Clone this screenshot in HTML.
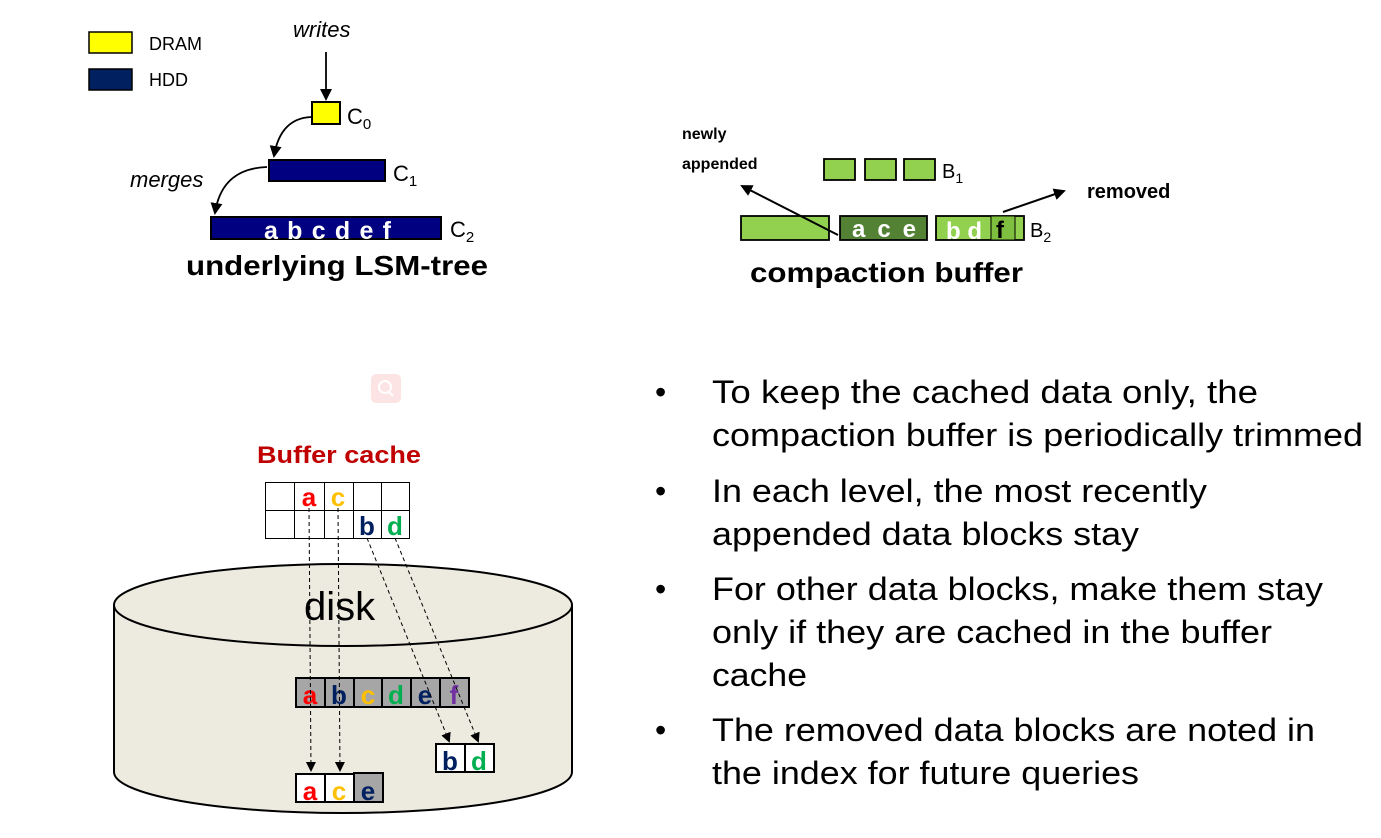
<!DOCTYPE html>
<html><head><meta charset="utf-8"><style>
html,body{margin:0;padding:0;background:#fff;}
svg{display:block;font-family:"Liberation Sans",sans-serif;}
</style></head><body>
<svg width="1381" height="838" viewBox="0 0 1381 838" xmlns="http://www.w3.org/2000/svg">
<defs>
<marker id="ah" markerWidth="10" markerHeight="10" refX="8" refY="5" orient="auto" markerUnits="userSpaceOnUse"><path d="M0,0 L10,5 L0,10 z" fill="#000"/></marker>
<marker id="ah2" markerWidth="12" markerHeight="12" refX="10" refY="6" orient="auto" markerUnits="userSpaceOnUse"><path d="M0,0 L12,6 L0,12 z" fill="#000"/></marker>
</defs>

<!-- legend -->
<rect x="89" y="32" width="43" height="21" fill="#ffff00" stroke="#000" stroke-width="1.5"/>
<rect x="89" y="69" width="43" height="21" fill="#002060" stroke="#000" stroke-width="1.5"/>
<text x="149" y="50" font-size="18">DRAM</text>
<text x="149" y="86" font-size="18">HDD</text>

<!-- LSM -->
<text x="293" y="37" font-size="22" font-style="italic">writes</text>
<line x1="326" y1="52" x2="326" y2="99" stroke="#000" stroke-width="1.8" marker-end="url(#ah2)"/>
<rect x="312" y="102" width="28" height="22" fill="#ffff00" stroke="#000" stroke-width="2"/>
<text x="347" y="124" font-size="22">C<tspan font-size="15" dy="5">0</tspan></text>
<path d="M311,117 C290,118 278,132 274,156" fill="none" stroke="#000" stroke-width="1.8" marker-end="url(#ah2)"/>
<rect x="269" y="160" width="116" height="21" fill="#000080" stroke="#000" stroke-width="2"/>
<text x="393" y="181" font-size="22">C<tspan font-size="15" dy="5">1</tspan></text>
<text x="130" y="187" font-size="22" font-style="italic">merges</text>
<path d="M267,167 C240,168 220,180 215,213" fill="none" stroke="#000" stroke-width="1.8" marker-end="url(#ah2)"/>
<rect x="211" y="217" width="230" height="22" fill="#000080" stroke="#000" stroke-width="2"/>
<text x="264" y="239" font-size="25" font-weight="bold" fill="#fff" textLength="127" lengthAdjust="spacing">a b c d e f</text>
<text x="450" y="237" font-size="22">C<tspan font-size="15" dy="5">2</tspan></text>
<text x="186" y="275" font-size="28" font-weight="bold" textLength="302" lengthAdjust="spacingAndGlyphs">underlying LSM-tree</text>

<!-- compaction buffer -->
<text x="682" y="139" font-size="16" font-weight="bold">newly</text>
<text x="682" y="169" font-size="16" font-weight="bold">appended</text>
<rect x="824" y="159" width="31" height="21" fill="#92d050" stroke="#000" stroke-width="1.8"/>
<rect x="865" y="159" width="31" height="21" fill="#92d050" stroke="#000" stroke-width="1.8"/>
<rect x="904" y="159" width="31" height="21" fill="#92d050" stroke="#000" stroke-width="1.8"/>
<text x="942" y="178" font-size="20">B<tspan font-size="14" dy="5">1</tspan></text>
<text x="1087" y="198" font-size="20" font-weight="bold">removed</text>
<rect x="741" y="216" width="88" height="24" fill="#92d050" stroke="#000" stroke-width="1.8"/>
<rect x="840" y="216" width="87" height="24" fill="#548235" stroke="#000" stroke-width="1.8"/>
<text x="852" y="237" font-size="24" font-weight="bold" fill="#fff" textLength="64" lengthAdjust="spacing">a c e</text>
<rect x="936" y="216" width="88" height="24" fill="#92d050" stroke="#000" stroke-width="1.8"/>
<rect x="991" y="216" width="24" height="24" fill="#7fbf40" stroke="#000" stroke-width="1"/>
<text x="946" y="239" font-size="24" font-weight="bold" fill="#fff">b d</text>
<text x="996" y="238" font-size="24" font-weight="bold" fill="#000">f</text>
<text x="1030" y="237" font-size="20">B<tspan font-size="14" dy="5">2</tspan></text>
<line x1="838" y1="235" x2="742" y2="186" stroke="#000" stroke-width="2" marker-end="url(#ah2)"/>
<line x1="1003" y1="212" x2="1064" y2="191" stroke="#000" stroke-width="2" marker-end="url(#ah2)"/>
<text x="750" y="282" font-size="28" font-weight="bold" textLength="273" lengthAdjust="spacingAndGlyphs">compaction buffer</text>

<!-- magnifier -->
<rect x="371" y="374" width="30" height="29" rx="5" fill="#fde4e4"/>
<circle cx="385" cy="387" r="6" fill="none" stroke="#fff" stroke-width="2"/>
<line x1="389" y1="392" x2="393" y2="396" stroke="#fff" stroke-width="2"/>

<!-- buffer cache -->
<text x="257" y="463" font-size="24" font-weight="bold" fill="#c00000" textLength="164" lengthAdjust="spacingAndGlyphs">Buffer cache</text>
<g stroke="#000" stroke-width="1" fill="#fff">
<rect x="265.5" y="482.5" width="144" height="56"/>
<line x1="265" y1="510.5" x2="409" y2="510.5"/>
<line x1="294.5" y1="482" x2="294.5" y2="538"/>
<line x1="324.5" y1="482" x2="324.5" y2="538"/>
<line x1="353.5" y1="482" x2="353.5" y2="538"/>
<line x1="381.5" y1="482" x2="381.5" y2="538"/>
</g>
<g font-size="26" font-weight="bold" text-anchor="middle">
<text x="309" y="506" fill="#ff0000">a</text>
<text x="338" y="506" fill="#ffc000">c</text>
<text x="367" y="535" fill="#002060">b</text>
<text x="395" y="535" fill="#00b050">d</text>
</g>

<!-- disk cylinder -->
<path d="M114,605 L114,772 A229,41 0 0 0 572,772 L572,605" fill="#edebe0" stroke="#000" stroke-width="2"/>
<ellipse cx="343" cy="605" rx="229" ry="41" fill="#edebe0" stroke="#000" stroke-width="2"/>
<text x="304" y="620" font-size="40">disk</text>

<!-- abcdef row -->
<g stroke="#000" stroke-width="2" fill="#a6a6a6">
<rect x="296" y="678" width="173" height="29"/>
<line x1="325" y1="678" x2="325" y2="707"/>
<line x1="354" y1="678" x2="354" y2="707"/>
<line x1="382" y1="678" x2="382" y2="707"/>
<line x1="411" y1="678" x2="411" y2="707"/>
<line x1="440" y1="678" x2="440" y2="707"/>
</g>
<g font-size="26" font-weight="bold" text-anchor="middle">
<text x="310" y="704" fill="#ff0000">a</text>
<text x="339" y="704" fill="#002060">b</text>
<text x="368" y="704" fill="#ffc000">c</text>
<text x="396" y="704" fill="#00b050">d</text>
<text x="425" y="704" fill="#002060">e</text>
<text x="454" y="704" fill="#7030a0">f</text>
</g>

<!-- bd box -->
<g stroke="#000" stroke-width="2">
<rect x="436" y="744" width="58" height="28" fill="#fff"/>
<line x1="465" y1="744" x2="465" y2="772"/>
</g>
<g font-size="26" font-weight="bold" text-anchor="middle">
<text x="450" y="770" fill="#002060">b</text>
<text x="479" y="770" fill="#00b050">d</text>
</g>

<!-- ace box -->
<g stroke="#000" stroke-width="2">
<rect x="296" y="774" width="29" height="28" fill="#fff"/>
<rect x="325" y="774" width="29" height="28" fill="#fff"/>
<rect x="354" y="773" width="29" height="29" fill="#a6a6a6"/>
</g>
<g font-size="26" font-weight="bold" text-anchor="middle">
<text x="310" y="800" fill="#ff0000">a</text>
<text x="339" y="800" fill="#ffc000">c</text>
<text x="368" y="800" fill="#002060">e</text>
</g>

<!-- dashed arrows -->
<g stroke="#000" stroke-width="1" stroke-dasharray="4,3" fill="none">
<line x1="309" y1="508" x2="311" y2="770" marker-end="url(#ah)"/>
<line x1="338" y1="508" x2="340" y2="770" marker-end="url(#ah)"/>
<line x1="367" y1="538" x2="449" y2="741" marker-end="url(#ah)"/>
<line x1="395" y1="538" x2="478" y2="741" marker-end="url(#ah)"/>
</g>

<!-- bullets -->
<g font-size="32" fill="#000">
<text x="655" y="403">•</text>
<text x="655" y="502">•</text>
<text x="655" y="600">•</text>
<text x="655" y="741">•</text>
<text x="712" y="403" textLength="546" lengthAdjust="spacingAndGlyphs">To keep  the cached data only, the</text>
<text x="712" y="446" textLength="651" lengthAdjust="spacingAndGlyphs">compaction buffer is periodically trimmed</text>
<text x="712" y="502" textLength="495" lengthAdjust="spacingAndGlyphs">In each level, the most recently</text>
<text x="712" y="545" textLength="427" lengthAdjust="spacingAndGlyphs">appended data blocks stay</text>
<text x="712" y="600" textLength="611" lengthAdjust="spacingAndGlyphs">For other data blocks, make them stay</text>
<text x="712" y="643" textLength="560" lengthAdjust="spacingAndGlyphs">only if they are cached in the buffer</text>
<text x="712" y="686" textLength="95" lengthAdjust="spacingAndGlyphs">cache</text>
<text x="712" y="741" textLength="603" lengthAdjust="spacingAndGlyphs">The removed data blocks are noted in</text>
<text x="712" y="784" textLength="427" lengthAdjust="spacingAndGlyphs">the index for future queries</text>
</g>
</svg>
</body></html>
